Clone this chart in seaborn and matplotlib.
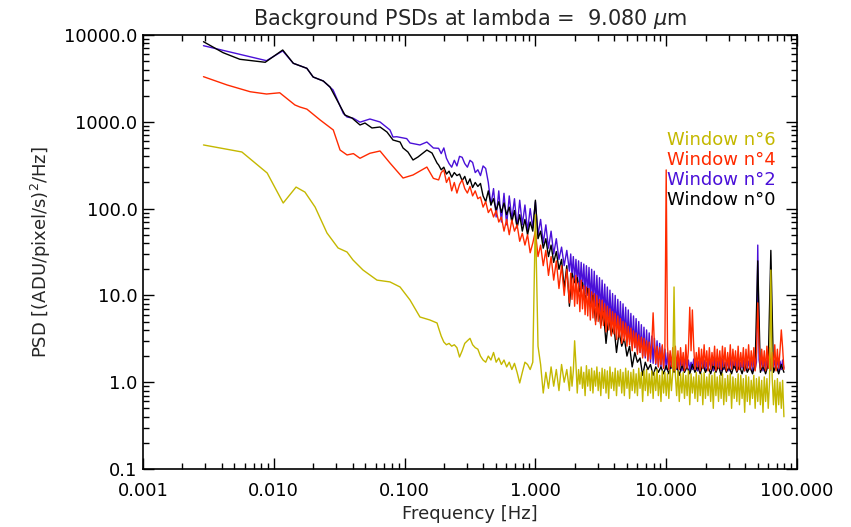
import numpy as np
import pandas as pd
import matplotlib
matplotlib.use("Agg")
import matplotlib.pyplot as plt
import seaborn as sns
from matplotlib.ticker import FixedLocator, FixedFormatter, LogLocator, NullFormatter

# ---------------- data ----------------
# low-frequency (smooth) parts, Hz and PSD
f_lo_w0 = [0.0029, 0.0041, 0.0055, 0.0086, 0.0117, 0.0141, 0.0179, 0.0200, 0.0239, 0.0269,
           0.0304, 0.0350, 0.0396, 0.0456, 0.0498, 0.0563, 0.0649, 0.0733, 0.0815, 0.0923,
           0.0973, 0.106, 0.116, 0.1265, 0.148, 0.162, 0.177]
v_lo_w0 = [8370, 6250, 5250, 4850, 6720, 4720, 4130, 3280, 2950, 2520,
           1783, 1197, 1106, 919, 968, 849, 871, 763, 617, 585,
           499, 449, 363, 393, 473, 437, 335]

f_lo_w2 = [0.0029, 0.0088, 0.0117, 0.0141, 0.0179, 0.0200, 0.0239, 0.0284, 0.0340, 0.0363,
           0.0406, 0.0456, 0.0543, 0.0649, 0.0773, 0.0815, 0.0871, 0.1038, 0.110, 0.131,
           0.148, 0.166]
v_lo_w2 = [7530, 5060, 6560, 4720, 4130, 3280, 2950, 2325, 1250, 1136,
           1097, 990, 1077, 995, 805, 668, 673, 640, 570, 541,
           585, 499]

f_lo_w4 = [0.0029, 0.0044, 0.0066, 0.0088, 0.0111, 0.0145, 0.0158, 0.0179, 0.0226, 0.0285,
           0.0321, 0.0363, 0.0406, 0.0456, 0.0543, 0.0649, 0.0773, 0.0973, 0.116, 0.148,
           0.166]
v_lo_w4 = [3310, 2655, 2220, 2090, 2160, 1563, 1482, 1400, 1050, 805,
           473, 415, 430, 380, 434, 461, 335, 225, 244, 301,
           223]

f_lo_w6 = [0.0029, 0.0057, 0.0089, 0.0118, 0.0148, 0.0173, 0.0207, 0.0255, 0.031, 0.0363,
           0.0403, 0.0481, 0.0615, 0.0773, 0.0923, 0.110, 0.131, 0.156, 0.177]
v_lo_w6 = [541, 449, 257, 116, 177, 155, 104, 52.4, 35.2, 31.6,
           25.6, 19.6, 15.0, 14.3, 12.5, 8.85, 5.64, 5.21, 4.81]

# high-frequency (noisy) part, shared frequency grid
f_hi = [0.1820, 0.1905, 0.1995, 0.2089, 0.2188, 0.2291, 0.2399, 0.2512, 0.2630, 0.2754,
        0.2884, 0.3020, 0.3162, 0.3311, 0.3467, 0.3631, 0.3802, 0.3981, 0.4169, 0.4365,
        0.4571, 0.4786, 0.5012, 0.5248, 0.5495, 0.5754, 0.6026, 0.6310, 0.6607, 0.6918,
        0.7244, 0.7586, 0.7943, 0.8318, 0.8710, 0.9120, 0.9550, 1.000,
        1.047, 1.096, 1.148, 1.202, 1.259, 1.318, 1.380, 1.445, 1.514, 1.585,
        1.660, 1.738, 1.820, 1.905, 1.995, 2.089, 2.188, 2.291, 2.399, 2.512,
        2.630, 2.754, 2.884, 3.020, 3.162, 3.311, 3.467, 3.631, 3.802, 3.981,
        4.169, 4.365, 4.571, 4.786, 5.012, 5.248, 5.495, 5.754, 6.026, 6.310,
        6.607, 6.918, 7.244, 7.586, 7.943, 8.318, 8.710, 9.120, 9.550, 10.00,
        10.47, 10.96, 11.48, 12.02, 12.59, 13.18, 13.80, 14.45, 15.14, 15.85,
        16.60, 17.38, 18.20, 19.05, 19.95, 20.89, 21.88, 22.91, 23.99, 25.12,
        26.30, 27.54, 28.84, 30.20, 31.62, 33.11, 34.67, 36.31, 38.02, 39.81,
        41.69, 43.65, 45.71, 47.86, 50.12, 52.48, 54.95, 57.54, 60.26, 63.10,
        66.07, 69.18, 72.44, 75.86, 79.43]

# in-between frequencies (upper side of the noise band) above ~1.8 Hz
f_mid = [1.862, 1.950, 2.042, 2.138, 2.239, 2.344, 2.455, 2.570, 2.692, 2.818,
         2.951, 3.090, 3.236, 3.388, 3.548, 3.715, 3.890, 4.074, 4.266, 4.467,
         4.677, 4.898, 5.129, 5.370, 5.623, 5.888, 6.166, 6.457, 6.761, 7.079,
         7.413, 7.762, 8.128, 8.511, 8.913, 9.333, 9.772, 10.23, 10.72, 11.22,
         11.75, 12.30, 12.88, 13.49, 14.13, 14.79, 15.49, 16.22, 16.98, 17.78,
         18.62, 19.50, 20.42, 21.38, 22.39, 23.44, 24.55, 25.70, 26.92, 28.18,
         29.51, 30.90, 32.36, 33.88, 35.48, 37.15, 38.90, 40.74, 42.66, 44.67,
         46.77, 48.98, 51.29, 53.70, 56.23, 58.88, 61.66, 64.57, 67.61, 70.79,
         74.13, 77.62]

v_hi_w2 = [495, 430, 500, 380, 330, 300, 360, 310, 400, 390, 330, 300, 360, 340, 260, 280, 240, 310, 290,
           200, 110, 170, 80, 160, 70, 150, 65, 140, 75, 130, 60, 125, 65, 110, 55, 100, 60,
           120,
           50, 75, 40, 65, 35, 55, 30, 45, 26, 36,
           22, 33,
           19, 17, 15, 14, 12.5, 12, 10.5, 10, 8.5, 8,
           7.5, 7, 6.3, 6, 5.5, 5, 4.6, 4.3, 4.0, 3.7,
           3.5, 3.3, 3.0, 2.9, 2.6, 2.5, 2.3, 2.2, 2.0, 1.9,
           1.8, 1.7, 1.65, 1.6, 1.5, 1.5, 1.45, 1.4, 1.4, 1.45,
           1.35, 1.4, 1.45, 1.35, 1.4, 1.45, 1.35, 1.4, 1.45, 1.35,
           1.4, 1.45, 1.35, 1.4, 1.45, 1.35, 1.4, 1.45, 1.35, 1.4,
           1.45, 1.35, 1.4, 1.45, 1.35, 1.4, 1.45, 1.35, 1.4, 1.45,
           1.35, 1.4, 38, 1.45, 1.35, 1.4, 1.45, 1.35, 1.4, 1.45,
           1.35, 1.4, 1.45]
v_mid_w2 = [30, 28, 26, 25, 24, 23, 22, 21, 20, 19,
            17, 16, 15, 13.5, 12.5, 11.5, 10.5, 10, 9, 8.5,
            8, 7.3, 6.8, 6.2, 5.8, 5.4, 5.0, 4.6, 4.3, 4.0,
            3.7, 3.4, 3.2, 3.0, 2.8, 2.6, 2.4, 2.2, 2.1, 2.0,
            1.9, 1.8, 1.85, 1.75, 1.9, 1.8, 1.7, 1.85, 1.8, 1.75,
            1.9, 1.8, 1.7, 1.85, 1.8, 1.9, 1.75, 1.8, 1.85, 1.7,
            1.8, 1.9, 1.75, 1.8, 1.85, 1.7, 1.8, 1.9, 1.75, 1.8,
            1.85, 1.7, 1.8, 1.9, 1.75, 1.8, 1.85, 1.7, 1.8, 1.9,
            1.75, 1.8]

v_hi_w0 = [318, 280, 300, 250, 270, 230, 260, 240, 250, 210, 235, 190, 220, 175, 200, 180, 195, 140, 120,
           160, 110, 130, 95, 120, 90, 116, 85, 104, 70, 95, 60, 85, 55, 75, 50, 70, 55,
           125,
           45, 55, 35, 45, 28, 38, 24, 32, 20, 26,
           12, 22, 7.5, 18, 14, 16, 11, 14, 9, 12,
           7.5, 10, 5, 8, 4.5, 6.5, 2.8, 5.5, 3.5, 4.5,
           2.2, 3.8, 2.6, 3.2, 2.0, 2.6, 1.5, 2.2, 1.7, 1.9,
           1.2, 1.7, 1.4, 1.6, 1.2, 1.5, 1.3, 1.5, 1.25, 1.55,
           1.25, 1.6, 1.3, 1.55, 1.2, 1.6, 1.3, 1.5, 1.25, 1.6,
           1.3, 1.55, 1.25, 1.6, 1.3, 1.5, 1.25, 1.6, 1.3, 1.55,
           1.2, 1.6, 1.3, 1.5, 1.25, 1.6, 1.3, 1.55, 1.25, 1.6,
           1.3, 1.5, 1.25, 1.6, 25, 1.3, 1.55, 1.25, 1.6, 33,
           1.3, 1.55, 1.25, 1.6, 1.3]

v_hi_w4 = [214, 260, 279, 200, 230, 160, 200, 151, 190, 214, 170, 151, 180, 140, 160, 130, 136, 104, 120,
           90, 100, 80, 95, 70, 80, 55, 75, 50, 74, 55, 65, 42, 52, 38, 50, 31, 40,
           55,
           28, 38, 22, 33, 17, 28, 15, 25, 12, 22,
           10, 20,
           8.2, 9, 7.5, 8, 6.5, 7, 6, 5.8, 5.2, 5.5,
           4.6, 5, 4.2, 4.5, 3.8, 4.0, 3.4, 3.6, 3.1, 3.3,
           2.8, 3.0, 2.6, 2.7, 2.3, 2.5, 2.1, 2.2, 1.9, 2.0,
           1.75, 1.85, 6.3, 1.65, 1.5, 1.6, 1.45, 279, 1.4, 1.5,
           1.35, 1.45, 1.4, 1.55, 1.35, 1.45, 7.3, 6.8, 1.4, 1.5,
           1.35, 1.45, 1.5, 1.35, 1.4, 1.55, 1.35, 1.45, 1.4, 1.5,
           1.35, 1.45, 1.4, 1.55, 1.35, 1.4, 1.5, 1.35, 1.45, 1.4,
           1.5, 1.35, 8.2, 1.4, 1.5, 1.35, 1.45, 1.4, 1.5, 1.35,
           1.45, 4.0, 1.4]
v_mid_w4 = [18, 16, 17, 14, 15, 13, 12.5, 12, 11, 10.5,
            10, 9, 8.8, 8, 7.5, 7, 6.5, 6.2, 5.8, 5.4,
            5.0, 4.8, 4.4, 4.2, 3.9, 3.7, 3.5, 3.3, 3.2, 3.0,
            2.9, 2.8, 2.7, 2.6, 2.5, 2.7, 2.4, 2.6, 2.3, 2.5,
            2.6, 2.3, 2.5, 2.2, 2.7, 2.4, 2.3, 2.6, 2.2, 2.5,
            2.4, 2.7, 2.3, 2.5, 2.2, 2.6, 2.4, 2.3, 2.6, 2.5,
            2.2, 2.7, 2.4, 2.3, 2.6, 2.2, 2.5, 2.4, 2.7, 2.3,
            2.5, 2.2, 2.6, 2.4, 2.3, 2.6, 2.5, 2.2, 2.7, 2.4,
            2.3, 2.5]

v_hi_w6 = [4.2, 3.4, 2.9, 2.7, 2.8, 2.6, 2.7, 2.5, 1.95, 2.3,
           2.8, 3.0, 3.2, 2.7, 2.5, 2.4, 2.0, 1.8, 1.7, 2.0,
           1.8, 2.2, 1.7, 1.9, 1.6, 1.8, 1.5, 1.7, 1.4, 1.65,
           1.3, 0.98, 1.3, 1.7, 1.6, 1.4, 1.7,
           85,
           2.6, 1.6, 0.75, 1.3, 0.85, 1.5, 0.9, 1.4, 0.8, 1.6,
           1.0, 1.4,
           0.8, 0.9, 3.0, 0.75, 0.95, 0.85, 0.7, 0.9, 0.8, 0.75,
           0.9, 0.8, 0.7, 0.85, 0.75, 0.65, 0.85, 0.8, 0.7, 0.9,
           0.75, 0.7, 0.85, 0.65, 0.8, 0.75, 0.7, 0.85, 0.6, 0.8,
           0.7, 0.75, 0.65, 0.8, 0.7, 0.6, 0.75, 0.7, 0.65, 0.8,
           12.5, 0.7, 0.6, 0.75, 0.65, 0.7, 0.55, 0.75, 0.65, 0.6,
           0.7, 0.55, 0.65, 0.7, 0.6, 0.5, 0.7, 0.6, 0.65, 0.55,
           0.6, 0.7, 0.5, 0.65, 0.6, 0.55, 0.65, 0.45, 0.6, 0.55,
           0.65, 0.5, 0.6, 0.55, 0.45, 0.6, 0.5, 19.6, 0.55, 0.45,
           0.55, 0.5, 0.4]
v_mid_w6 = [1.5, 1.35, 1.6, 1.4, 1.5, 1.3, 1.55, 1.4, 1.45, 1.35,
            1.5, 1.3, 1.45, 1.4, 1.35, 1.5, 1.3, 1.45, 1.35, 1.4,
            1.3, 1.45, 1.35, 1.3, 1.4, 1.25, 1.45, 1.3, 1.35, 1.4,
            1.25, 1.35, 1.3, 1.4, 1.2, 1.35, 1.3, 1.25, 1.4, 1.3,
            1.2, 1.35, 1.25, 1.3, 1.2, 1.35, 1.25, 1.15, 1.3, 1.2,
            1.25, 1.3, 1.15, 1.25, 1.2, 1.3, 1.15, 1.2, 1.25, 1.1,
            1.2, 1.25, 1.15, 1.1, 1.25, 1.2, 1.1, 1.2, 1.15, 1.05,
            1.2, 1.1, 1.15, 1.05, 1.15, 1.1, 1.0, 1.15, 1.05, 1.1,
            1.0, 1.05]

series_names = ["Window n°6", "Window n°4", "Window n°2", "Window n°0"]
series_colors = {"Window n°0": "#000000", "Window n°2": "#4a10d8",
                 "Window n°4": "#ff2a00", "Window n°6": "#c4b800"}

x_tick_vals = [0.001, 0.01, 0.1, 1, 10, 100]
x_tick_labels = ["0.001", "0.010", "0.100", "1.000", "10.000", "100.000"]
y_tick_vals = [0.1, 1, 10, 100, 1000, 10000]
y_tick_labels = ["0.1", "1.0", "10.0", "100.0", "1000.0", "10000.0"]

title_text = "Background PSDs at lambda =  9.080 $\\mu$m"
x_label = "Frequency [Hz]"
y_label = "PSD [(ADU/pixel/s)$^2$/Hz]"

# ---------------- build ----------------
frames = {
    "Window n°0": (f_lo_w0 + f_hi, v_lo_w0 + v_hi_w0),
    "Window n°2": (f_lo_w2 + f_hi + f_mid, v_lo_w2 + v_hi_w2 + v_mid_w2),
    "Window n°4": (f_lo_w4 + f_hi + f_mid, v_lo_w4 + v_hi_w4 + v_mid_w4),
    "Window n°6": (f_lo_w6 + f_hi + f_mid, v_lo_w6 + v_hi_w6 + v_mid_w6),
}

sns.set_style("white")
plt.rcParams["font.family"] = ["DejaVu Sans"]
plt.rcParams["mathtext.fontset"] = "dejavusans"

fig = plt.figure(figsize=(8.51, 5.27), dpi=100)
ax = fig.add_axes([143 / 851, 1 - 469 / 527, 654 / 851, 434 / 527])

draw_order = ["Window n°2", "Window n°0", "Window n°4", "Window n°6"]
for name in draw_order:
    f, v = frames[name]
    df = pd.DataFrame({"freq": f, "psd": v})
    sns.lineplot(data=df, x="freq", y="psd", ax=ax, color=series_colors[name],
                 linewidth=1.0, estimator=None, sort=True, legend=False)

ax.set_xscale("log")
ax.set_yscale("log")
ax.set_xlim(0.001, 100)
ax.set_ylim(0.1, 10000)

ax.xaxis.set_major_locator(FixedLocator(x_tick_vals))
ax.xaxis.set_major_formatter(FixedFormatter(x_tick_labels))
ax.yaxis.set_major_locator(FixedLocator(y_tick_vals))
ax.yaxis.set_major_formatter(FixedFormatter(y_tick_labels))
ax.xaxis.set_minor_locator(LogLocator(base=10, subs=range(2, 10), numticks=20))
ax.yaxis.set_minor_locator(LogLocator(base=10, subs=range(2, 10), numticks=20))
ax.xaxis.set_minor_formatter(NullFormatter())
ax.yaxis.set_minor_formatter(NullFormatter())

ax.tick_params(which="both", direction="in", top=True, right=True, bottom=True, left=True,
               color="black")
ax.tick_params(which="major", length=8, width=1.0, labelsize=13, labelcolor="black")
ax.tick_params(which="minor", length=4.5, width=1.0)
ax.tick_params(axis="x", which="major", pad=9)
ax.tick_params(axis="y", which="major", pad=4)

for sp in ax.spines.values():
    sp.set_visible(True)
    sp.set_color("black")
    sp.set_linewidth(1.2)

ax.set_xlabel(x_label, fontsize=13, labelpad=4)
ax.set_ylabel(y_label, fontsize=13, labelpad=8)
ax.set_title(title_text, fontsize=15, pad=7)

legend_y = [0.758, 0.712, 0.666, 0.620]
for name, yy in zip(series_names, legend_y):
    ax.text(0.801, yy, name, transform=ax.transAxes, color=series_colors[name],
            fontsize=13, va="center", ha="left")

fig.savefig("out.png", dpi=100)
